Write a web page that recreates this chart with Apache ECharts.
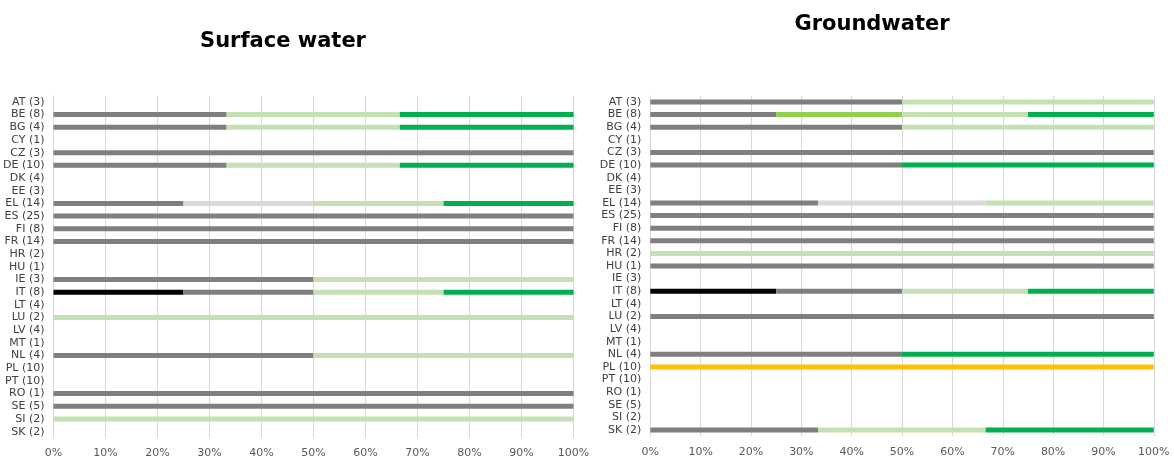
<!DOCTYPE html>
<html>
<head>
<meta charset="utf-8">
<script src="https://cdn.jsdelivr.net/npm/echarts@6/dist/echarts.min.js"></script>
<style>
html,body{margin:0;padding:0;background:#fff;}
#c{width:1174px;height:459px;}
</style>
</head>
<body>
<div id="c"></div>
<script>
const categories = ['AT (3)','BE (8)','BG (4)','CY (1)','CZ (3)','DE (10)','DK (4)','EE (3)','EL (14)','ES (25)','FI (8)','FR (14)','HR (2)','HU (1)','IE (3)','IT (8)','LT (4)','LU (2)','LV (4)','MT (1)','NL (4)','PL (10)','PT (10)','RO (1)','SE (5)','SI (2)','SK (2)'];
const xTicks = [0,10,20,30,40,50,60,70,80,90,100];

// Surface water (% per category)
const swBlack      = [0,0,0,0,0,0,0,0,0,0,0,0,0,0,0,25,0,0,0,0,0,0,0,0,0,0,0];
const swGray       = [0,33.3,33.3,0,100,33.3,0,0,25,100,100,100,0,0,50,25,0,0,0,0,50,0,0,100,100,0,0];
const swLightGray  = [0,0,0,0,0,0,0,0,25,0,0,0,0,0,0,0,0,0,0,0,0,0,0,0,0,0,0];
const swYellowGreen= [0,0,0,0,0,0,0,0,0,0,0,0,0,0,0,0,0,0,0,0,0,0,0,0,0,0,0];
const swLightGreen = [0,33.3,33.3,0,0,33.3,0,0,25,0,0,0,0,0,50,25,0,100,0,0,50,0,0,0,0,100,0];
const swGreen      = [0,33.4,33.4,0,0,33.4,0,0,25,0,0,0,0,0,0,25,0,0,0,0,0,0,0,0,0,0,0];
const swYellow     = [0,0,0,0,0,0,0,0,0,0,0,0,0,0,0,0,0,0,0,0,0,0,0,0,0,0,0];

// Groundwater (% per category)
const gwBlack      = [0,0,0,0,0,0,0,0,0,0,0,0,0,0,0,25,0,0,0,0,0,0,0,0,0,0,0];
const gwGray       = [50,25,50,0,100,50,0,0,33.3,100,100,100,0,100,0,25,0,100,0,0,50,0,0,0,0,0,33.3];
const gwLightGray  = [0,0,0,0,0,0,0,0,33.3,0,0,0,0,0,0,0,0,0,0,0,0,0,0,0,0,0,0];
const gwYellowGreen= [0,25,0,0,0,0,0,0,0,0,0,0,0,0,0,0,0,0,0,0,0,0,0,0,0,0,0];
const gwLightGreen = [50,25,50,0,0,0,0,0,33.4,0,0,0,100,0,0,25,0,0,0,0,0,0,0,0,0,0,33.3];
const gwGreen      = [0,25,0,0,0,50,0,0,0,0,0,0,0,0,0,25,0,0,0,0,50,0,0,0,0,0,33.4];
const gwYellow     = [0,0,0,0,0,0,0,0,0,0,0,0,0,0,0,0,0,0,0,0,0,100,0,0,0,0,0];

const seriesNames = ['black','gray','lightgray','yellowgreen','lightgreen','green','yellow'];
const colors = ['#000000','#7f7f7f','#d9d9d9','#92d050','#c5e0b4','#00b050','#ffc000'];
const swData = [swBlack,swGray,swLightGray,swYellowGreen,swLightGreen,swGreen,swYellow];
const gwData = [gwBlack,gwGray,gwLightGray,gwYellowGreen,gwLightGreen,gwGreen,gwYellow];

const font = 'DejaVu Sans, Verdana, sans-serif';

function xAxisFor(i){
  return {
    type:'value', gridIndex:i, min:0, max:100, interval:10,
    axisLine:{show:false}, axisTick:{show:false},
    splitLine:{show:true, lineStyle:{color:'#d9d9d9', width:1}},
    axisLabel:{formatter:'{value}%', color:'#595959', fontSize:11, fontFamily:font, margin:10}
  };
}
function yAxisFor(i){
  return {
    type:'category', gridIndex:i, data:categories, inverse:true,
    axisLine:{show:true, lineStyle:{color:'#d9d9d9'}}, axisTick:{show:false},
    axisLabel:{color:'#404040', fontSize:11, fontFamily:font, margin:9, interval:0}
  };
}
const series = [];
[swData, gwData].forEach((set, gi) => {
  set.forEach((arr, k) => {
    series.push({
      type:'bar', name:seriesNames[k], xAxisIndex:gi, yAxisIndex:gi,
      stack:'s'+gi, data:arr, barWidth:5,
      itemStyle:{color:colors[k]}, silent:true, animation:false
    });
  });
});

const chart = echarts.init(document.getElementById('c'), null, {renderer:'canvas'});
chart.setOption({
  backgroundColor:'#ffffff',
  animation:false,
  title:[
    {text:'Surface water', left:278, top:26, textAlign:'center',
     textStyle:{fontSize:21, fontWeight:'bold', color:'#000', fontFamily:font}},
    {text:'Groundwater', left:867, top:9, textAlign:'center',
     textStyle:{fontSize:21, fontWeight:'bold', color:'#000', fontFamily:font}}
  ],
  grid:[
    {left:53.5, width:520, top:95.6, height:346.8, containLabel:false},
    {left:650.3, width:503.5, top:95.7, height:340.6, containLabel:false}
  ],
  xAxis:[xAxisFor(0), xAxisFor(1)],
  yAxis:[yAxisFor(0), yAxisFor(1)],
  series:series
});
</script>
</body>
</html>
